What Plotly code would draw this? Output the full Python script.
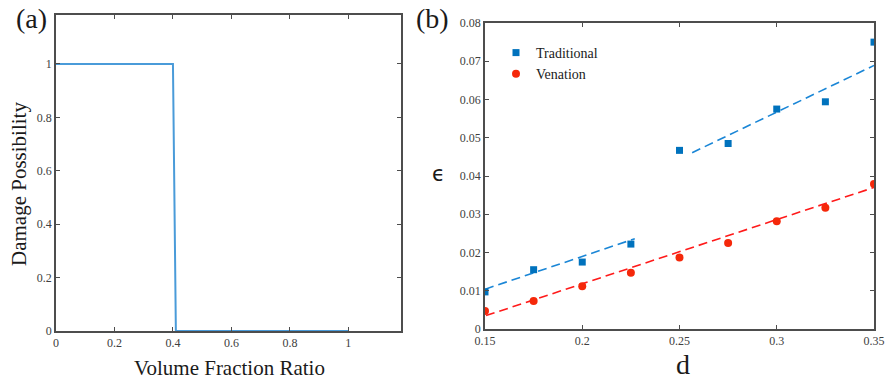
import plotly.graph_objects as go

# Panel (a): step curve
vfr_x = [0, 0.4, 0.41, 1.0]
damage_y = [1, 1, 0, 0]

# Panel (b): data
d_vals = [0.15, 0.175, 0.2, 0.225, 0.25, 0.275, 0.3, 0.325, 0.35]
traditional = [0.0097, 0.0155, 0.0175, 0.0222, 0.0467, 0.0485, 0.0575, 0.0594, 0.0750]
venation = [0.0047, 0.0073, 0.0112, 0.0147, 0.0187, 0.0225, 0.0282, 0.0317, 0.0379]

# Fitted dashed lines (endpoints)
trad_fit1_x = [0.15, 0.227]
trad_fit1_y = [0.0104, 0.0236]
trad_fit2_x = [0.2565, 0.35]
trad_fit2_y = [0.0461, 0.0689]
ven_fit_x = [0.1505, 0.35]
ven_fit_y = [0.0035, 0.0370]

left_ticks = [0, 0.2, 0.4, 0.6, 0.8, 1]
left_ticklabels = ["0", "0.2", "0.4", "0.6", "0.8", "1"]
right_xticks = [0.15, 0.2, 0.25, 0.3, 0.35]
right_xticklabels = ["0.15", "0.2", "0.25", "0.3", "0.35"]
right_yticks = [0, 0.01, 0.02, 0.03, 0.04, 0.05, 0.06, 0.07, 0.08]
right_yticklabels = ["0", "0.01", "0.02", "0.03", "0.04", "0.05", "0.06", "0.07", "0.08"]

BLUE = "#0072BD"
RED = "#F5280A"
SERIF = "Liberation Serif, Times New Roman, serif"
W, H = 886, 381


def px(x, y):
    return x / W, 1 - y / H


fig = go.Figure()

fig.add_trace(go.Scatter(x=vfr_x, y=damage_y, mode="lines",
                         line=dict(color="#4A9BD9", width=2),
                         xaxis="x", yaxis="y", showlegend=False))

fig.add_trace(go.Scatter(x=trad_fit1_x, y=trad_fit1_y, mode="lines",
                         line=dict(color="#1A86D6", width=1.6, dash="9px,5px"),
                         xaxis="x2", yaxis="y2", showlegend=False))
fig.add_trace(go.Scatter(x=trad_fit2_x, y=trad_fit2_y, mode="lines",
                         line=dict(color="#1A86D6", width=1.6, dash="9px,5px"),
                         xaxis="x2", yaxis="y2", showlegend=False))
fig.add_trace(go.Scatter(x=ven_fit_x, y=ven_fit_y, mode="lines",
                         line=dict(color="#FF1A1A", width=1.6, dash="9px,5px"),
                         xaxis="x2", yaxis="y2", showlegend=False))

fig.add_trace(go.Scatter(x=d_vals, y=traditional, mode="markers", name="Traditional",
                         marker=dict(symbol="square", size=7, color=BLUE),
                         xaxis="x2", yaxis="y2"))
fig.add_trace(go.Scatter(x=d_vals, y=venation, mode="markers", name="Venation",
                         marker=dict(symbol="circle", size=8, color=RED),
                         xaxis="x2", yaxis="y2"))

axis_common = dict(showline=True, mirror="ticks", linecolor="#4d4d4d", linewidth=1.6,
                   ticks="inside", ticklen=4, tickcolor="#4d4d4d", showgrid=False,
                   zeroline=False, automargin=False,
                   tickfont=dict(family=SERIF, size=12, color="#404040"))

annos = []


def add_text(text, x, y, size, angle=0, family=SERIF):
    ax, ay = px(x, y)
    annos.append(dict(text=text, x=ax, y=ay, xref="paper", yref="paper",
                      xanchor="center", yanchor="middle", showarrow=False,
                      textangle=angle, font=dict(family=family, size=size, color="#1a1a1a")))


add_text("(a)", 31, 18, 28)
add_text("(b)", 432, 18, 28)
add_text("Volume Fraction Ratio", 229, 368, 21)
add_text("Damage Possibility", 19, 184, 21, -90)
add_text("ϵ", 438, 174, 21, family="DejaVu Sans, sans-serif")
add_text("d", 683, 364, 28)

fig.update_layout(
    width=W, height=H,
    margin=dict(l=0, r=0, t=0, b=0, autoexpand=False),
    paper_bgcolor="white", plot_bgcolor="white",
    xaxis=dict(domain=[56 / W, 401 / W], range=[0, 1.18], tickvals=left_ticks,
               ticktext=left_ticklabels, anchor="y", **axis_common),
    yaxis=dict(domain=[1 - 331 / H, 1 - 15 / H], range=[0, 1.183], tickvals=left_ticks,
               ticktext=left_ticklabels, anchor="x", **axis_common),
    xaxis2=dict(domain=[485 / W, 874 / W], range=[0.15, 0.35], tickvals=right_xticks,
                ticktext=right_xticklabels, anchor="y2", **axis_common),
    yaxis2=dict(domain=[1 - 329 / H, 1 - 23 / H], range=[0, 0.08], tickvals=right_yticks,
                ticktext=right_yticklabels, anchor="x2", **axis_common),
    legend=dict(x=496 / W, y=1 - 37 / H, xanchor="left", yanchor="top",
                bgcolor="rgba(0,0,0,0)", font=dict(family=SERIF, size=14, color="#1a1a1a"),
                itemwidth=30, tracegroupgap=0),
    annotations=annos,
)

fig.write_html("out.html", config={"displayModeBar": False},
               post_script="document.body.style.margin='0px';")
